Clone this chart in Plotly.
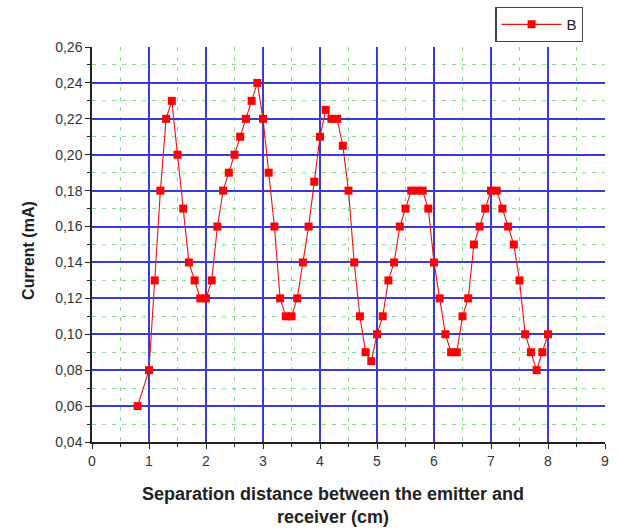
import plotly.graph_objects as go

distance_cm = [0.8, 1.0, 1.1, 1.2, 1.3, 1.4, 1.5, 1.6, 1.7, 1.8, 1.9, 2.0,
               2.1, 2.2, 2.3, 2.4, 2.5, 2.6, 2.7, 2.8, 2.9, 3.0,
               3.1, 3.2, 3.3, 3.4, 3.5, 3.6, 3.7, 3.8, 3.9, 4.0,
               4.1, 4.2, 4.3, 4.4, 4.5, 4.6, 4.7, 4.8, 4.9, 5.0,
               5.1, 5.2, 5.3, 5.4, 5.5, 5.6, 5.7, 5.8, 5.9, 6.0,
               6.1, 6.2, 6.3, 6.4, 6.5, 6.6, 6.7, 6.8, 6.9, 7.0,
               7.1, 7.2, 7.3, 7.4, 7.5, 7.6, 7.7, 7.8, 7.9, 8.0]
current_mA = [0.06, 0.08, 0.13, 0.18, 0.22, 0.23, 0.20, 0.17, 0.14, 0.13, 0.12, 0.12,
              0.13, 0.16, 0.18, 0.19, 0.20, 0.21, 0.22, 0.23, 0.24, 0.22,
              0.19, 0.16, 0.12, 0.11, 0.11, 0.12, 0.14, 0.16, 0.185, 0.21,
              0.225, 0.22, 0.22, 0.205, 0.18, 0.14, 0.11, 0.09, 0.085, 0.10,
              0.11, 0.13, 0.14, 0.16, 0.17, 0.18, 0.18, 0.18, 0.17, 0.14,
              0.12, 0.10, 0.09, 0.09, 0.11, 0.12, 0.15, 0.16, 0.17, 0.18,
              0.18, 0.17, 0.16, 0.15, 0.13, 0.10, 0.09, 0.08, 0.09, 0.10]
series_name = "B"
x_title = "Separation distance between the emitter and<br>receiver (cm)"
y_title = "Current (mA)"

BLUE = "#3a3ad8"
GREEN = "#86dc86"
FONT = "Liberation Sans, Arial, sans-serif"

fig = go.Figure()
fig.add_trace(go.Scatter(
    x=distance_cm, y=current_mA, mode="lines+markers", name=series_name,
    line=dict(color="#f01010", width=1.1),
    marker=dict(symbol="square", size=8, color="#ff0000"),
))

axis_common = dict(
    showline=True, linecolor="#222222", linewidth=1.5,
    ticks="outside", ticklen=5, tickcolor="#222222", tickwidth=1.2,
    showgrid=True, gridcolor=BLUE, gridwidth=1.5,
    zeroline=False, automargin=False,
    tickfont=dict(family=FONT, size=14, color="#333333"),
)

fig.update_xaxes(
    range=[0, 9], dtick=1, tick0=0,
    minor=dict(dtick=0.5, tick0=0, ticks="outside", ticklen=3, tickcolor="#222222",
               showgrid=True, gridcolor=GREEN, griddash="4px,6px", gridwidth=1),
    **axis_common,
)
fig.update_yaxes(
    range=[0.04, 0.26], dtick=0.02, tick0=0.04, tickformat=".2f",
    minor=dict(dtick=0.01, tick0=0.04, ticks="outside", ticklen=3, tickcolor="#222222",
               showgrid=True, gridcolor=GREEN, griddash="4px,6px", gridwidth=1),
    **axis_common,
)

# axis titles as annotations (reference titles are slightly off-centre)
fig.add_annotation(text=x_title, xref="paper", yref="paper", x=0.47, y=-0.16,
                   xanchor="center", yanchor="middle", showarrow=False,
                   font=dict(family=FONT, size=18, color="#222222", weight="bold"))
fig.add_annotation(text=y_title, xref="paper", yref="paper", x=-0.125, y=0.486,
                   xanchor="center", yanchor="middle", showarrow=False, textangle=-90,
                   font=dict(family=FONT, size=16, color="#222222", weight="bold"))

fig.update_layout(
    width=618, height=531,
    margin=dict(l=92, r=13, t=47, b=89, autoexpand=False),
    plot_bgcolor="white", paper_bgcolor="white",
    separators=", ",
    font=dict(family=FONT),
    showlegend=True,
    legend=dict(
        xref="container", yref="container",
        x=0.944, y=0.987, xanchor="right", yanchor="top",
        bordercolor="#444444", borderwidth=1.2, bgcolor="white",
        font=dict(family=FONT, size=15, color="#222222"),
        itemwidth=60, tracegroupgap=0,
    ),
)

fig.write_html("out.html", config={"displayModeBar": False},
               post_script="document.body.style.margin='0';")
